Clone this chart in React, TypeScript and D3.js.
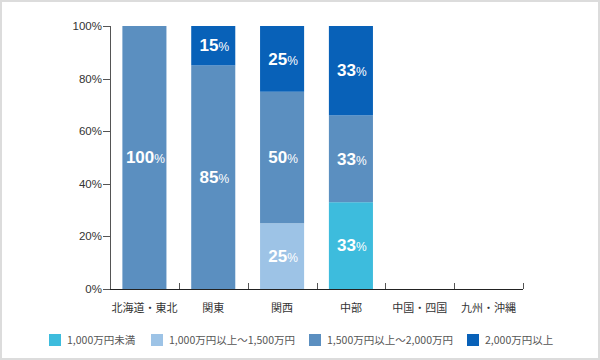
import React from "react";
import * as d3 from "d3";

const categories = ["北海道・東北", "関東", "関西", "中部", "中国・四国", "九州・沖縄"];
const seriesNames = ["1,000万円未満", "1,000万円以上～1,500万円", "1,500万円以上～2,000万円", "2,000万円以上"];
const seriesColors = ["#3dbcdd", "#9dc3e6", "#5b8fc0", "#0861b8"];
const under1000 = [0, 0, 0, 33, 0, 0];
const from1000to1500 = [0, 0, 25, 0, 0, 0];
const from1500to2000 = [100, 85, 50, 33, 0, 0];
const over2000 = [0, 15, 25, 34, 0, 0];
const labelValues = [
  [0, 0, 0, 33, 0, 0],
  [0, 0, 25, 0, 0, 0],
  [100, 85, 50, 33, 0, 0],
  [0, 15, 25, 33, 0, 0],
];
const yTicks = [0, 20, 40, 60, 80, 100];

const W = 600, H = 360;
const margin = { left: 110, right: 77, top: 26, bottom: 71 };

export default function App() {
  const series = [under1000, from1000to1500, from1500to2000, over2000];
  const x = d3.scaleBand<string>().domain(categories).range([margin.left, W - margin.right]).paddingInner(0.36).paddingOuter(0.18);
  const y = d3.scaleLinear().domain([0, 100]).range([H - margin.bottom, margin.top]);
  const table = categories.map((c, i) => {
    const o: any = { cat: c };
    series.forEach((s, k) => (o["s" + k] = s[i]));
    return o;
  });
  const stack = d3.stack<any>().keys(series.map((_, k) => "s" + k));
  const stacked = stack(table);
  const step = x.step();
  const x0 = margin.left, x1 = W - margin.right;
  const y0 = y(0);
  const legendX = [49, 151, 309, 467];

  return (
    <svg width={W} height={H} style={{ position: "absolute", left: 0, top: 0 }} fontFamily="'Liberation Sans', Arial, sans-serif">
      <rect x={1} y={1} width={W - 2} height={H - 2} fill="#fff" stroke="#dcdcdc" strokeWidth={2} />
      {stacked.map((layer, k) => (
        <g key={k}>
          {layer.map((d, i) => {
            if (d[1] - d[0] <= 0) return null;
            const bx = x(categories[i])!;
            const top = y(d[1]);
            const bottom = y(d[0]);
            const cy = (top + bottom) / 2;
            const lbl = labelValues[k][i];
            return (
              <g key={i}>
                <rect x={bx} y={top} width={x.bandwidth()} height={bottom - top} fill={seriesColors[k]} />
                <text x={bx + x.bandwidth() / 2 + 1} y={cy} dy="0.36em" textAnchor="middle" fill="#fff" fontWeight="bold">
                  <tspan fontSize={17}>{lbl}</tspan>
                  <tspan fontSize={12} fontWeight="normal">%</tspan>
                </text>
              </g>
            );
          })}
        </g>
      ))}
      {/* y axis */}
      <line x1={x0 + 0.5} x2={x0 + 0.5} y1={y(100)} y2={y0} stroke="#555" />
      {yTicks.map((t) => (
        <g key={t}>
          <line x1={x0 - 7} x2={x0} y1={Math.round(y(t)) + 0.5} y2={Math.round(y(t)) + 0.5} stroke="#555" />
          <text x={x0 - 8} y={y(t)} dy="0.35em" textAnchor="end" fontSize={11.5} fill="#333">
            {t}%
          </text>
        </g>
      ))}
      {/* x axis */}
      <line x1={x0} x2={x1} y1={y0 + 0.5} y2={y0 + 0.5} stroke="#222" />
      {d3.range(categories.length + 1).map((i) => (
        <line key={i} x1={Math.round(x0 + step * i) + 0.5} x2={Math.round(x0 + step * i) + 0.5} y1={y0 - 6} y2={y0} stroke="#555" />
      ))}
      {categories.map((c) => (
        <text key={c} x={x(c)! + x.bandwidth() / 2} y={y0 + 19} dy="0.35em" textAnchor="middle" fontSize={11} fill="#333" fontFamily="'Noto Sans CJK JP', sans-serif">
          {c}
        </text>
      ))}
      {/* legend */}
      {seriesNames.map((n, k) => (
        <g key={n}>
          <rect x={legendX[k]} y={334} width={12} height={12} fill={seriesColors[k]} />
          <text x={legendX[k] + 18} y={340} dy="0.35em" fontSize={10.5} fill="#555" fontFamily="'Noto Sans CJK JP', sans-serif">
            {n}
          </text>
        </g>
      ))}
    </svg>
  );
}
